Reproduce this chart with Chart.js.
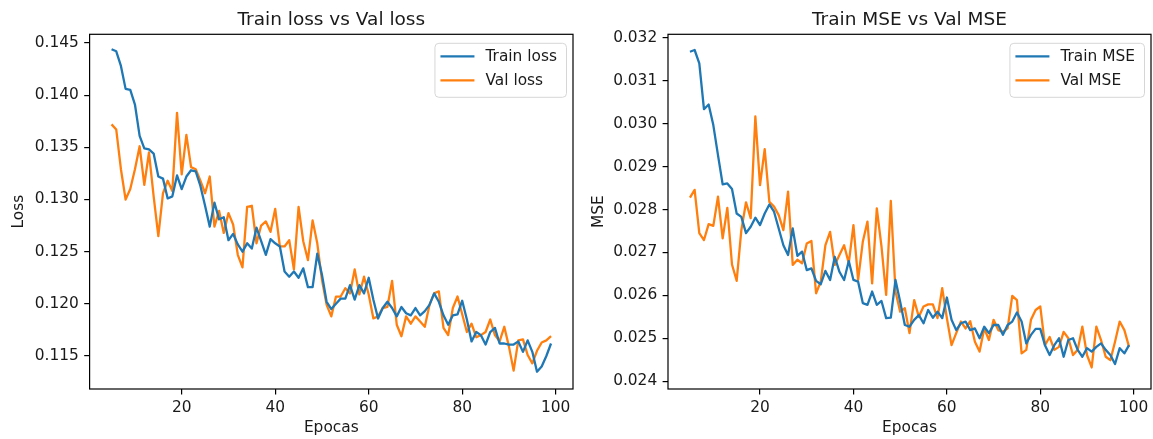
<!DOCTYPE html>
<html>
<head>
<meta charset="utf-8">
<script src="https://cdn.jsdelivr.net/npm/chart.js@4.4.1/dist/chart.umd.min.js"></script>
<style>
  html, body { margin: 0; padding: 0; background: #fff; }
  #wrap { position: relative; width: 1153px; height: 439px; }
  canvas { position: absolute; top: 0; }
  #lossChart { left: 0; }
  #mseChart { left: 580px; }
</style>
</head>
<body>
<div id="wrap">
  <canvas id="lossChart" width="580" height="439"></canvas>
  <canvas id="mseChart" width="573" height="439"></canvas>
</div>
<script>
// History of the training run, one value per epoch starting at epoch 5
const firstEpoch = 5;

const trainLoss = [
  0.1444, 0.1442, 0.1428, 0.1406, 0.1405, 0.1391, 0.1361, 0.1349, 0.1348, 0.1344,
  0.1322, 0.1320, 0.1301, 0.1303, 0.1323, 0.1310, 0.1322, 0.1328, 0.1327, 0.1313,
  0.1294, 0.1274, 0.1297, 0.1281, 0.1283, 0.1261, 0.1267, 0.1257, 0.1250, 0.1258,
  0.1253, 0.1273, 0.1260, 0.1247, 0.1262, 0.1258, 0.1255, 0.1231, 0.1226, 0.1231,
  0.1225, 0.1234, 0.1216, 0.1216, 0.1248, 0.1228, 0.1202, 0.1195, 0.1200, 0.1205,
  0.1205, 0.1218, 0.1204, 0.1218, 0.1210, 0.1225, 0.1204, 0.1186, 0.1196, 0.1202,
  0.1196, 0.1188, 0.1197, 0.1191, 0.1189, 0.1196, 0.1189, 0.1193, 0.1199, 0.1210,
  0.1202, 0.1189, 0.1180, 0.1189, 0.1190, 0.1203, 0.1185, 0.1164, 0.1173, 0.1170,
  0.1161, 0.1173, 0.1177, 0.1162, 0.1162, 0.1161, 0.1161, 0.1164, 0.1154, 0.1165,
  0.1154, 0.1135, 0.1140, 0.1150, 0.1162
];
const valLoss = [
  0.1372, 0.1367, 0.1329, 0.1300, 0.1310, 0.1329, 0.1351, 0.1314, 0.1345, 0.1303,
  0.1265, 0.1306, 0.1318, 0.1308, 0.1383, 0.1324, 0.1362, 0.1331, 0.1329, 0.1318,
  0.1306, 0.1322, 0.1274, 0.1289, 0.1268, 0.1287, 0.1276, 0.1247, 0.1235, 0.1293,
  0.1294, 0.1258, 0.1275, 0.1279, 0.1269, 0.1291, 0.1255, 0.1255, 0.1261, 0.1233,
  0.1293, 0.1260, 0.1242, 0.1280, 0.1258, 0.1223, 0.1199, 0.1188, 0.1207, 0.1207,
  0.1215, 0.1210, 0.1233, 0.1209, 0.1226, 0.1209, 0.1186, 0.1188, 0.1196, 0.1197,
  0.1222, 0.1180, 0.1169, 0.1188, 0.1181, 0.1188, 0.1183, 0.1178, 0.1199, 0.1210,
  0.1212, 0.1177, 0.1170, 0.1196, 0.1207, 0.1190, 0.1173, 0.1181, 0.1168, 0.1170,
  0.1173, 0.1185, 0.1170, 0.1164, 0.1178, 0.1159, 0.1136, 0.1165, 0.1166, 0.1151,
  0.1143, 0.1155, 0.1163, 0.1165, 0.1169
];
const trainMse = [
  0.03168, 0.03172, 0.03141, 0.03034, 0.03045, 0.02997, 0.02927, 0.02859, 0.02861, 0.02848,
  0.02791, 0.02783, 0.02745, 0.02760, 0.02781, 0.02764, 0.02791, 0.02812, 0.02795, 0.02756,
  0.02717, 0.02694, 0.02756, 0.02692, 0.02702, 0.02659, 0.02663, 0.02634, 0.02626, 0.02657,
  0.02636, 0.02690, 0.02655, 0.02636, 0.02680, 0.02636, 0.02632, 0.02582, 0.02578, 0.02609,
  0.02578, 0.02587, 0.02547, 0.02548, 0.02636, 0.02585, 0.02531, 0.02527, 0.02543, 0.02554,
  0.02535, 0.02566, 0.02548, 0.02562, 0.02547, 0.02595, 0.02543, 0.02519, 0.02535, 0.02539,
  0.02519, 0.02523, 0.02500, 0.02527, 0.02512, 0.02531, 0.02531, 0.02508, 0.02531, 0.02539,
  0.02560, 0.02539, 0.02488, 0.02508, 0.02522, 0.02522, 0.02484, 0.02461, 0.02484, 0.02500,
  0.02457, 0.02496, 0.02500, 0.02473, 0.02457, 0.02477, 0.02469, 0.02480, 0.02488, 0.02473,
  0.02461, 0.02440, 0.02477, 0.02465, 0.02484
];
const valMse = [
  0.02828, 0.02846, 0.02745, 0.02729, 0.02766, 0.02762, 0.02830, 0.02733, 0.02804, 0.02672,
  0.02634, 0.02752, 0.02817, 0.02780, 0.03017, 0.02857, 0.02941, 0.02818, 0.02807, 0.02787,
  0.02752, 0.02842, 0.02671, 0.02683, 0.02675, 0.02721, 0.02727, 0.02605, 0.02632, 0.02717,
  0.02748, 0.02671, 0.02694, 0.02717, 0.02675, 0.02764, 0.02636, 0.02725, 0.02772, 0.02628,
  0.02803, 0.02714, 0.02601, 0.02820, 0.02609, 0.02562, 0.02570, 0.02512, 0.02589, 0.02550,
  0.02574, 0.02579, 0.02579, 0.02547, 0.02617, 0.02547, 0.02484, 0.02512, 0.02539, 0.02523,
  0.02540, 0.02492, 0.02469, 0.02523, 0.02496, 0.02543, 0.02519, 0.02515, 0.02523, 0.02599,
  0.02589, 0.02465, 0.02473, 0.02543, 0.02566, 0.02574, 0.02484, 0.02503, 0.02473, 0.02480,
  0.02515, 0.02500, 0.02461, 0.02473, 0.02527, 0.02461, 0.02432, 0.02527, 0.02496, 0.02457,
  0.02449, 0.02492, 0.02539, 0.02519, 0.02480
];

// Tick labels
const epochTicks = [20, 40, 60, 80, 100];
const lossTicks = [0.115, 0.120, 0.125, 0.130, 0.135, 0.140, 0.145];
const mseTicks = [0.024, 0.025, 0.026, 0.027, 0.028, 0.029, 0.030, 0.031, 0.032];

const BLUE = "#1f77b4";
const ORANGE = "#ff7f0e";
const INK = "#1a1a1a";
const FONT = "DejaVu Sans";

function toPoints(values) {
  return values.map((v, i) => ({ x: firstEpoch + i, y: v }));
}

// Title, frame and boxed legend drawn inside the plot area
function decorations(title, labels) {
  return {
    id: "decorations",
    afterDatasetsDraw(chart) {
      const ctx = chart.ctx;
      const a = chart.chartArea;
      ctx.save();

      // frame
      ctx.strokeStyle = "#000";
      ctx.lineWidth = 1.2;
      ctx.strokeRect(a.left, a.top, a.right - a.left, a.bottom - a.top);

      // title
      ctx.fillStyle = INK;
      ctx.font = `18.5px "${FONT}"`;
      ctx.textAlign = "center";
      ctx.textBaseline = "alphabetic";
      ctx.fillText(title, (a.left + a.right) / 2, a.top - 9.3);

      // legend
      ctx.font = `15.4px "${FONT}"`;
      const textW = Math.max(...labels.map((l) => ctx.measureText(l).width));
      const w = 51 + textW + 9;
      const h = 54;
      const x0 = a.right - 7 - w;
      const y0 = a.top + 8.5;
      ctx.beginPath();
      ctx.roundRect(x0 + 0.5, y0 + 0.5, w, h, 4);
      ctx.fillStyle = "rgba(255,255,255,0.8)";
      ctx.fill();
      ctx.strokeStyle = "#d6d6d6";
      ctx.lineWidth = 1;
      ctx.stroke();

      ctx.textAlign = "left";
      ctx.textBaseline = "middle";
      chart.data.datasets.forEach((ds, i) => {
        const y = y0 + 13.5 + i * 24;
        ctx.beginPath();
        ctx.moveTo(x0 + 6, y);
        ctx.lineTo(x0 + 40, y);
        ctx.strokeStyle = ds.borderColor;
        ctx.lineWidth = 2.3;
        ctx.stroke();
        ctx.fillStyle = INK;
        ctx.fillText(labels[i], x0 + 51, y + 1);
      });
      ctx.restore();
    },
  };
}

function buildChart(canvasId, opts) {
  const tickFont = { family: FONT, size: 15.4 };
  return new Chart(document.getElementById(canvasId), {
    type: "line",
    data: {
      datasets: [
        {
          label: opts.labels[0],
          data: toPoints(opts.train),
          borderColor: BLUE,
          borderWidth: 2.3,
          pointRadius: 0,
          borderJoinStyle: "round",
          tension: 0,
        },
        {
          label: opts.labels[1],
          data: toPoints(opts.val),
          borderColor: ORANGE,
          borderWidth: 2.3,
          pointRadius: 0,
          borderJoinStyle: "round",
          tension: 0,
        },
      ],
    },
    options: {
      responsive: false,
      animation: false,
      layout: { padding: { top: 34.3, right: opts.padRight, bottom: 0, left: 0 } },
      plugins: {
        legend: { display: false },
        title: { display: false },
        tooltip: { enabled: false },
      },
      scales: {
        x: {
          type: "linear",
          min: 0.3,
          max: 103.7,
          afterBuildTicks: (scale) => {
            scale.ticks = epochTicks.map((v) => ({ value: v }));
          },
          afterFit: (scale) => {
            scale.height = 50;
          },
          border: { display: false },
          grid: {
            drawOnChartArea: false,
            drawTicks: true,
            tickLength: 5.4,
            color: "#000",
            lineWidth: 1.2,
          },
          ticks: {
            font: tickFont,
            color: INK,
            padding: 4,
            maxRotation: 0,
            callback: (v) => String(v),
          },
          title: {
            display: true,
            text: "Epocas",
            font: tickFont,
            color: INK,
            padding: { top: 0, bottom: 1.8 },
          },
        },
        y: {
          type: "linear",
          min: opts.yMin,
          max: opts.yMax,
          afterBuildTicks: (scale) => {
            scale.ticks = opts.ticks.map((v) => ({ value: v }));
          },
          afterFit: (scale) => {
            scale.width = opts.axisWidth;
          },
          border: { display: false },
          grid: {
            drawOnChartArea: false,
            drawTicks: true,
            tickLength: 5.4,
            color: "#000",
            lineWidth: 1.2,
          },
          ticks: {
            font: tickFont,
            color: INK,
            padding: 5.4,
            callback: (v) => v.toFixed(3),
          },
          title: {
            display: true,
            text: opts.yTitle,
            font: tickFont,
            color: INK,
            padding: { top: 9.8, bottom: 0 },
          },
        },
      },
    },
    plugins: [decorations(opts.title, opts.labels)],
  });
}

buildChart("lossChart", {
  title: "Train loss vs Val loss",
  labels: ["Train loss", "Val loss"],
  train: trainLoss,
  val: valLoss,
  ticks: lossTicks,
  yTitle: "Loss",
  yMin: 0.11184,
  yMax: 0.14583,
  axisWidth: 89.6,
  padRight: 7,
});

buildChart("mseChart", {
  title: "Train MSE vs Val MSE",
  labels: ["Train MSE", "Val MSE"],
  train: trainMse,
  val: valMse,
  ticks: mseTicks,
  yTitle: "MSE",
  yMin: 0.023818,
  yMax: 0.032086,
  axisWidth: 88,
  padRight: 2,
});
</script>
</body>
</html>
